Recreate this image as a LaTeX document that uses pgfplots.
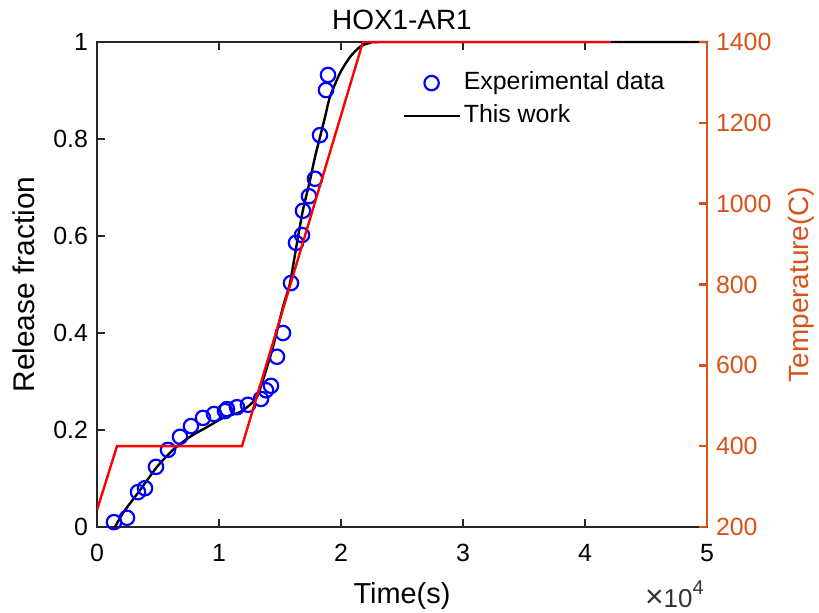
\documentclass[border=0pt]{standalone}
\usepackage{fontspec}
\setmainfont{Liberation Sans}
\usepackage{pgfplots}
\pgfplotsset{compat=1.18}
\definecolor{mOrange}{RGB}{217,83,25}

\begin{document}
\begin{tikzpicture}
\pgfplotsset{
  every axis/.append style={
    scale only axis, width=305bp, height=242.5bp,
    xmin=0, xmax=50000,
    tick label style={font=\fontsize{12.5}{14}\selectfont},
    /pgf/number format/assume math mode=true,
    /pgf/number format/1000 sep={},
    scaled ticks=false,
    tick align=inside, major tick length=4bp,
  },
}
\begin{axis}[
  clip=false,
  ymin=0, ymax=1,
  axis line style={line width=1.25bp, black!85},
  every tick/.style={line width=1.25bp, black!85},
  xtick={0,10000,20000,30000,40000,50000}, xticklabels={0,1,2,3,4,5},
  xticklabel style={yshift=-5bp},
  ytick={0,0.2,0.4,0.6,0.8,1},
  yticklabel style={xshift=-1bp},
  ytick pos=left, xtick pos=both,
  xlabel={Time(s)}, ylabel={Release fraction},
  xlabel style={font=\fontsize{14.5}{16}\selectfont, at={(rel axis cs:0.5,0)}, anchor=base, yshift=-38bp},
  ylabel style={font=\fontsize{15}{17}\selectfont, at={(rel axis cs:0,0.5)}, anchor=base, rotate=0, yshift=31bp},
  title={HOX1-AR1},
  title style={font=\fontsize{14}{16}\selectfont, at={(0.5,1)}, anchor=base, yshift=0.5bp},
  legend style={draw=none, fill=none, at={(0.5,0.946)}, anchor=north west,
    font=\fontsize{12.5}{14}\selectfont, row sep=2bp, inner sep=0pt,
    nodes={inner sep=1.5bp, text height=9bp, text depth=2.5bp}},
  legend image code/.code={\draw[mark repeat=2,mark phase=2,#1] plot coordinates {(0bp,0bp) (14bp,0bp) (28bp,0bp)};},
  legend cell align=left,
]
\addplot[only marks, mark=o, mark size=3.6bp, blue, mark options={line width=1.1bp}] coordinates {
  (1393,0.010) (2459,0.019) (3361,0.072) (3934,0.080) (4836,0.124)
  (5820,0.159) (6803,0.186) (7705,0.208) (8689,0.225) (9590,0.233)
  (10492,0.239) (10656,0.243) (11475,0.247) (12377,0.252) (13443,0.264)
  (13852,0.282) (14262,0.291) (14754,0.351) (15246,0.400) (15902,0.503)
  (16311,0.586) (16803,0.602) (16885,0.652) (17377,0.682) (17869,0.718)
  (18279,0.808) (18770,0.901) (18934,0.932)
};
\addlegendentry{Experimental data}
\addplot[black, line width=1.2bp, smooth, tension=0.4] coordinates {
  (1475,0) (2131,0.029) (3525,0.076) (4918,0.124) (6230,0.159)
  (7623,0.186) (9016,0.206) (10328,0.225) (11721,0.237) (12541,0.252)
  (13115,0.268) (13607,0.303) (14426,0.371) (15246,0.454) (15820,0.503)
  (16393,0.586) (16885,0.654) (17459,0.715) (17869,0.763) (18279,0.804)
  (18689,0.845) (19098,0.887) (19918,0.936) (20738,0.969) (21557,0.990)
  (22377,0.998) (24016,1.0) (50000,1.0)
};
\addlegendentry{This work}
\node[anchor=base east, font=\fontsize{13}{15}\selectfont, text=black!80, inner sep=0pt]
  at (rel axis cs:1,0) [xshift=-1.5bp, yshift=-40bp] {{\fontsize{16}{16}\selectfont ×}10\raisebox{0.9ex}{\fontsize{10}{12}\selectfont 4}};
\end{axis}
\begin{axis}[
  ymin=200, ymax=1400,
  axis x line=none, axis y line*=right,
  axis line style={line width=1.25bp, mOrange},
  every tick/.style={line width=1.25bp, mOrange},
  ytick={200,400,600,800,1000,1200,1400},
  yticklabel style={text=mOrange, xshift=1bp},
  ylabel={Temperature(C)},
  ylabel style={text=mOrange, font=\fontsize{14}{16}\selectfont, at={(rel axis cs:1,0.5)}, anchor=base, rotate=0, yshift=-51bp},
]
\addplot[red, line width=1.2bp] coordinates {
  (0,242) (1639,400) (11885,400) (21800,1400) (42131,1400)
};
\end{axis}
\pgfresetboundingbox
\path[use as bounding box] (-48.5bp,-43bp) rectangle (361bp,263.5bp);
\end{tikzpicture}
\end{document}
